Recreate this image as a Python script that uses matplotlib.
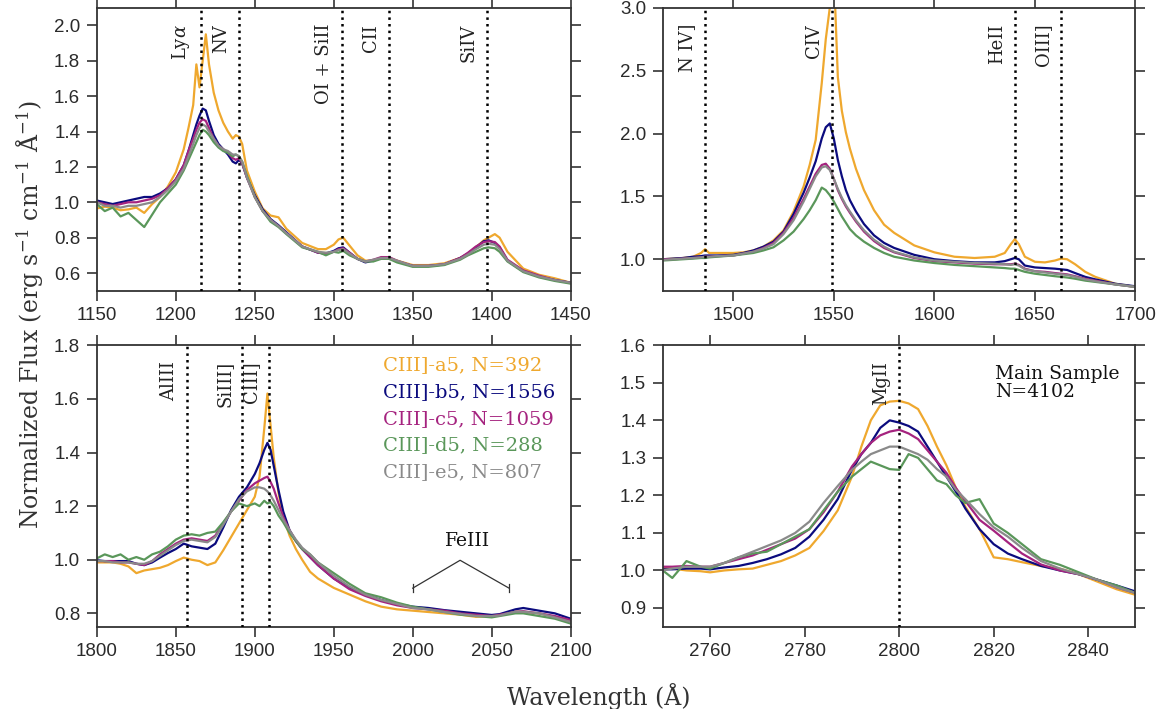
import numpy as np
import matplotlib
matplotlib.use("Agg")
import matplotlib.pyplot as plt
from matplotlib.transforms import blended_transform_factory, ScaledTranslation

# ---------------- data ----------------
series_labels = ["CIII]-a5, N=392", "CIII]-b5, N=1556", "CIII]-c5, N=1059",
                 "CIII]-d5, N=288", "CIII]-e5, N=807"]
series_colors = ["#EFA82E", "#0B0B7E", "#A5237F", "#5A975A", "#8A8A8A"]

# Panel 1: Lya / NV region
wl1 = [1150, 1155, 1160, 1165, 1170, 1175, 1180, 1185, 1190, 1195, 1200, 1205, 1208, 1211, 1213,
       1215, 1217, 1219, 1221, 1224, 1227, 1230, 1233, 1236, 1238, 1240, 1242, 1245, 1250, 1255,
       1260, 1265, 1270, 1280, 1290, 1295, 1300, 1303, 1306, 1310, 1315, 1320, 1325, 1330, 1335,
       1340, 1350, 1360, 1370, 1380, 1385, 1390, 1395, 1398, 1402, 1405, 1410, 1420, 1430, 1440, 1450]
f1_a = [0.965, 0.975, 0.97, 0.955, 0.96, 0.97, 0.94, 0.99, 1.03, 1.09, 1.17, 1.30, 1.42, 1.55, 1.78,
        1.65, 1.80, 1.95, 1.78, 1.62, 1.52, 1.45, 1.40, 1.36, 1.38, 1.37, 1.33, 1.18, 1.06, 0.965,
        0.925, 0.915, 0.85, 0.77, 0.735, 0.735, 0.76, 0.79, 0.80, 0.755, 0.70, 0.67, 0.67, 0.685, 0.685,
        0.67, 0.645, 0.645, 0.655, 0.685, 0.71, 0.745, 0.785, 0.80, 0.82, 0.80, 0.72, 0.625, 0.59, 0.57, 0.545]
f1_b = [1.01, 1.0, 0.99, 1.0, 1.01, 1.02, 1.03, 1.03, 1.05, 1.08, 1.13, 1.21, 1.29, 1.38, 1.44,
        1.49, 1.53, 1.52, 1.46, 1.38, 1.33, 1.30, 1.27, 1.23, 1.22, 1.24, 1.22, 1.14, 1.04, 0.96,
        0.905, 0.87, 0.83, 0.75, 0.715, 0.71, 0.725, 0.74, 0.745, 0.715, 0.68, 0.66, 0.67, 0.685, 0.685,
        0.665, 0.64, 0.64, 0.648, 0.685, 0.71, 0.745, 0.78, 0.785, 0.77, 0.745, 0.67, 0.61, 0.58, 0.56, 0.545]
f1_c = [1.0, 0.99, 0.98, 0.99, 1.0, 1.0, 1.01, 1.02, 1.04, 1.08, 1.13, 1.21, 1.29, 1.36, 1.41,
        1.45, 1.47, 1.46, 1.42, 1.36, 1.32, 1.30, 1.28, 1.25, 1.24, 1.25, 1.22, 1.14, 1.03, 0.95,
        0.90, 0.865, 0.825, 0.75, 0.715, 0.71, 0.72, 0.735, 0.74, 0.715, 0.68, 0.665, 0.675, 0.69, 0.69,
        0.67, 0.64, 0.64, 0.65, 0.685, 0.715, 0.75, 0.775, 0.78, 0.775, 0.75, 0.675, 0.615, 0.585, 0.56, 0.545]
f1_d = [0.99, 0.95, 0.97, 0.92, 0.94, 0.90, 0.86, 0.93, 1.0, 1.05, 1.10, 1.18, 1.24, 1.30, 1.34,
        1.38, 1.41, 1.40, 1.38, 1.34, 1.31, 1.29, 1.28, 1.26, 1.27, 1.26, 1.23, 1.15, 1.03, 0.95,
        0.89, 0.86, 0.82, 0.745, 0.72, 0.70, 0.72, 0.715, 0.725, 0.70, 0.68, 0.665, 0.665, 0.68, 0.68,
        0.66, 0.635, 0.635, 0.645, 0.675, 0.70, 0.72, 0.74, 0.745, 0.74, 0.72, 0.665, 0.605, 0.575, 0.555, 0.54]
f1_e = [1.0, 0.98, 0.98, 0.97, 0.98, 0.98, 0.99, 1.0, 1.03, 1.07, 1.12, 1.19, 1.26, 1.33, 1.38,
        1.42, 1.44, 1.43, 1.40, 1.36, 1.32, 1.30, 1.29, 1.27, 1.27, 1.26, 1.23, 1.14, 1.03, 0.95,
        0.90, 0.865, 0.825, 0.75, 0.72, 0.715, 0.72, 0.73, 0.735, 0.71, 0.68, 0.665, 0.675, 0.685, 0.685,
        0.67, 0.64, 0.64, 0.65, 0.68, 0.705, 0.735, 0.76, 0.765, 0.76, 0.735, 0.67, 0.61, 0.58, 0.56, 0.545]

# Panel 2: CIV region
wl2 = [1465, 1470, 1475, 1480, 1484, 1486, 1488, 1492, 1500, 1505, 1510, 1515, 1520, 1525, 1530,
       1535, 1538, 1541, 1544, 1546, 1548, 1550, 1552, 1554, 1556, 1558, 1561, 1565, 1570, 1575,
       1580, 1590, 1600, 1610, 1620, 1630, 1635, 1638, 1640, 1642, 1645, 1650, 1655, 1660, 1663,
       1666, 1670, 1675, 1680, 1690, 1700]
f2_a = [1.0, 1.005, 1.01, 1.02, 1.05, 1.08, 1.05, 1.05, 1.05, 1.055, 1.07, 1.10, 1.15, 1.23, 1.38,
        1.58, 1.75, 1.95, 2.40, 2.75, 3.0, 3.3, 2.45, 2.18, 2.01, 1.88, 1.72, 1.55, 1.39, 1.275,
        1.21, 1.11, 1.055, 1.02, 1.01, 1.02, 1.05, 1.12, 1.16, 1.12, 1.02, 0.98, 0.975, 0.99, 1.005,
        1.0, 0.96, 0.90, 0.86, 0.805, 0.78]
f2_b = [1.0, 1.005, 1.01, 1.02, 1.025, 1.03, 1.03, 1.03, 1.035, 1.05, 1.07, 1.10, 1.14, 1.22, 1.36,
        1.53, 1.65, 1.78, 1.96, 2.05, 2.08, 1.96, 1.79, 1.66, 1.55, 1.47, 1.38, 1.28, 1.19, 1.13,
        1.09, 1.035, 1.0, 0.985, 0.975, 0.975, 0.985, 1.0, 1.01, 1.0, 0.95, 0.935, 0.93, 0.925, 0.92,
        0.915, 0.89, 0.86, 0.84, 0.805, 0.785]
f2_c = [1.0, 1.0, 1.005, 1.01, 1.015, 1.02, 1.02, 1.025, 1.03, 1.045, 1.06, 1.09, 1.13, 1.21, 1.33,
        1.48, 1.58, 1.68, 1.75, 1.76, 1.72, 1.64, 1.55, 1.48, 1.42, 1.37, 1.30, 1.22, 1.145, 1.09,
        1.055, 1.01, 0.985, 0.975, 0.965, 0.96, 0.96, 0.96, 0.965, 0.955, 0.925, 0.905, 0.90, 0.89, 0.885,
        0.88, 0.865, 0.845, 0.83, 0.80, 0.78]
f2_d = [0.99, 0.995, 1.0, 1.005, 1.01, 1.01, 1.015, 1.02, 1.03, 1.04, 1.05, 1.07, 1.095, 1.15, 1.22,
        1.32, 1.39, 1.47, 1.57, 1.55, 1.51, 1.46, 1.40, 1.34, 1.29, 1.24, 1.19, 1.14, 1.09, 1.05,
        1.02, 0.99, 0.97, 0.955, 0.945, 0.935, 0.93, 0.925, 0.925, 0.915, 0.90, 0.885, 0.875, 0.865, 0.86,
        0.855, 0.845, 0.83, 0.82, 0.80, 0.78]
f2_e = [0.995, 1.0, 1.005, 1.01, 1.015, 1.02, 1.02, 1.025, 1.03, 1.045, 1.06, 1.085, 1.12, 1.20, 1.31,
        1.46, 1.56, 1.66, 1.73, 1.74, 1.71, 1.64, 1.56, 1.49, 1.43, 1.38, 1.31, 1.23, 1.155, 1.10,
        1.06, 1.015, 0.99, 0.98, 0.97, 0.965, 0.96, 0.955, 0.96, 0.95, 0.92, 0.905, 0.895, 0.885, 0.88,
        0.875, 0.86, 0.84, 0.825, 0.80, 0.78]

# Panel 3: CIII] region
wl3 = [1800, 1805, 1810, 1815, 1820, 1825, 1830, 1835, 1840, 1845, 1850, 1855, 1860, 1865, 1870,
       1875, 1880, 1885, 1890, 1895, 1900, 1903, 1906, 1908, 1910, 1912, 1915, 1918, 1922, 1926,
       1930, 1935, 1940, 1950, 1960, 1970, 1980, 1990, 2000, 2010, 2020, 2030, 2040, 2050, 2055,
       2060, 2065, 2070, 2080, 2090, 2100]
f3_a = [0.99, 0.99, 0.99, 0.985, 0.975, 0.95, 0.96, 0.965, 0.97, 0.98, 0.995, 1.008, 1.0, 0.995, 0.98,
        0.99, 1.035, 1.085, 1.135, 1.185, 1.235, 1.31, 1.49, 1.62, 1.50, 1.38, 1.25, 1.16, 1.09, 1.04,
        1.0, 0.955, 0.93, 0.895, 0.87, 0.845, 0.825, 0.815, 0.81, 0.805, 0.80, 0.795, 0.787, 0.79, 0.794,
        0.80, 0.806, 0.805, 0.80, 0.787, 0.768]
f3_b = [0.998, 0.995, 0.995, 0.995, 0.995, 0.985, 0.98, 0.99, 1.008, 1.025, 1.04, 1.06, 1.05, 1.045, 1.04,
        1.06, 1.12, 1.185, 1.235, 1.27, 1.32, 1.36, 1.41, 1.436, 1.41, 1.35, 1.26, 1.18, 1.11, 1.07,
        1.04, 1.01, 0.98, 0.93, 0.895, 0.87, 0.85, 0.835, 0.825, 0.82, 0.812, 0.806, 0.80, 0.794, 0.797,
        0.806, 0.815, 0.82, 0.81, 0.80, 0.78]
f3_c = [0.995, 0.995, 0.995, 0.99, 0.99, 0.985, 0.98, 0.995, 1.02, 1.04, 1.06, 1.075, 1.08, 1.075, 1.07,
        1.09, 1.135, 1.18, 1.22, 1.26, 1.285, 1.295, 1.305, 1.31, 1.29, 1.265, 1.21, 1.16, 1.11, 1.07,
        1.04, 1.01, 0.98, 0.93, 0.89, 0.865, 0.845, 0.83, 0.82, 0.815, 0.81, 0.80, 0.795, 0.79, 0.795,
        0.80, 0.806, 0.808, 0.80, 0.79, 0.775]
f3_d = [1.005, 1.02, 1.01, 1.02, 1.0, 1.01, 1.0, 1.02, 1.03, 1.05, 1.075, 1.09, 1.095, 1.09, 1.10,
        1.105, 1.14, 1.18, 1.21, 1.20, 1.21, 1.20, 1.22, 1.21, 1.215, 1.20, 1.165, 1.14, 1.10, 1.07,
        1.04, 1.02, 0.99, 0.95, 0.91, 0.875, 0.86, 0.84, 0.825, 0.815, 0.805, 0.795, 0.79, 0.785, 0.79,
        0.795, 0.80, 0.80, 0.79, 0.78, 0.762]
f3_e = [0.995, 0.995, 0.99, 0.99, 0.99, 0.985, 0.985, 0.995, 1.015, 1.035, 1.055, 1.07, 1.075, 1.07, 1.065,
        1.085, 1.13, 1.18, 1.225, 1.255, 1.27, 1.27, 1.265, 1.255, 1.24, 1.22, 1.185, 1.15, 1.11, 1.075,
        1.045, 1.02, 0.99, 0.94, 0.90, 0.87, 0.85, 0.835, 0.82, 0.815, 0.805, 0.798, 0.79, 0.79, 0.792,
        0.80, 0.806, 0.806, 0.80, 0.785, 0.768]

# Panel 4: MgII region
wl4 = [2750, 2752, 2755, 2758, 2760, 2763, 2766, 2769, 2772, 2775, 2778, 2781, 2784, 2787, 2790,
       2792, 2794, 2796, 2798, 2800, 2802, 2804, 2806, 2808, 2810, 2812, 2814, 2817, 2820, 2823,
       2826, 2830, 2834, 2838, 2842, 2846, 2850]
f4_a = [1.007, 1.005, 1.0, 0.998, 0.995, 1.0, 1.003, 1.005, 1.015, 1.025, 1.04, 1.06, 1.105, 1.16, 1.25,
        1.33, 1.40, 1.44, 1.45, 1.452, 1.445, 1.43, 1.385, 1.33, 1.28, 1.22, 1.17, 1.11, 1.035, 1.03,
        1.022, 1.012, 1.005, 0.99, 0.97, 0.95, 0.935]
f4_b = [1.003, 1.003, 1.005, 1.005, 1.003, 1.008, 1.012, 1.02, 1.03, 1.043, 1.06, 1.09, 1.135, 1.19, 1.268,
        1.31, 1.34, 1.38, 1.40, 1.394, 1.385, 1.37, 1.33, 1.29, 1.25, 1.21, 1.165, 1.11, 1.07, 1.045,
        1.03, 1.012, 1.0, 0.99, 0.975, 0.96, 0.944]
f4_c = [1.01, 1.01, 1.012, 1.01, 1.01, 1.02, 1.03, 1.04, 1.055, 1.07, 1.085, 1.11, 1.155, 1.21, 1.277,
        1.31, 1.34, 1.36, 1.37, 1.375, 1.365, 1.35, 1.32, 1.29, 1.26, 1.22, 1.185, 1.135, 1.106, 1.075,
        1.045, 1.016, 1.0, 0.99, 0.975, 0.955, 0.94]
f4_d = [1.0, 0.98, 1.025, 1.01, 1.005, 1.02, 1.035, 1.045, 1.05, 1.07, 1.09, 1.11, 1.16, 1.21, 1.25,
        1.27, 1.29, 1.28, 1.27, 1.268, 1.31, 1.30, 1.27, 1.24, 1.23, 1.20, 1.18, 1.19, 1.125, 1.10,
        1.07, 1.03, 1.015, 0.995, 0.975, 0.96, 0.94]
f4_e = [1.0, 1.005, 1.01, 1.01, 1.01, 1.02, 1.035, 1.05, 1.065, 1.08, 1.10, 1.13, 1.18, 1.225, 1.268,
        1.29, 1.31, 1.32, 1.33, 1.33, 1.32, 1.31, 1.295, 1.27, 1.25, 1.215, 1.19, 1.15, 1.115, 1.09,
        1.06, 1.025, 1.005, 0.99, 0.975, 0.955, 0.94]

# emission line markers (wavelength, label)
lines1 = [(1216, r"Ly$\alpha$"), (1240, "NV"), (1305, "OI + SiII"), (1335, "CII"), (1397, "SiIV")]
lines2 = [(1486, "N IV]"), (1549, "CIV"), (1640, "HeII"), (1663, "OIII]")]
lines3 = [(1857, "AlIII"), (1892, "SiIII]"), (1909, "CIII]")]
lines4 = [(2800, "MgII")]

# ---------------- figure ----------------
plt.rcParams["mathtext.fontset"] = "dejavuserif"
SERIF = "DejaVu Serif"
SANS = "Liberation Sans"
AXC = "#333333"

fig = plt.figure(figsize=(11.67, 7.09), dpi=100)
ax1 = fig.add_axes([0.083, 0.590, 0.406, 0.399])
ax2 = fig.add_axes([0.568, 0.590, 0.405, 0.399])
ax3 = fig.add_axes([0.083, 0.116, 0.406, 0.397])
ax4 = fig.add_axes([0.568, 0.116, 0.405, 0.397])

panels = [
    (ax1, wl1, [f1_a, f1_b, f1_c, f1_d, f1_e], lines1, (1150, 1450), (0.5, 2.1),
     np.arange(1150, 1451, 50), np.arange(0.6, 2.01, 0.2)),
    (ax2, wl2, [f2_a, f2_b, f2_c, f2_d, f2_e], lines2, (1465, 1700), (0.75, 3.0),
     np.arange(1500, 1701, 50), np.arange(1.0, 3.01, 0.5)),
    (ax3, wl3, [f3_a, f3_b, f3_c, f3_d, f3_e], lines3, (1800, 2100), (0.75, 1.8),
     np.arange(1800, 2101, 50), np.arange(0.8, 1.81, 0.2)),
    (ax4, wl4, [f4_a, f4_b, f4_c, f4_d, f4_e], lines4, (2750, 2850), (0.85, 1.6),
     np.arange(2760, 2841, 20), np.arange(0.9, 1.61, 0.1)),
]

for ax, wl, fl, lines, xl, yl, xt, yt in panels:
    for f, col in zip(fl, series_colors):
        ax.plot(wl, f, color=col, lw=1.6, zorder=2)
    trans = blended_transform_factory(ax.transData, ax.transAxes) + \
        ScaledTranslation(-9 / 100, -16 / 100, fig.dpi_scale_trans)
    for w, lab in lines:
        ax.axvline(w, color="black", ls=":", lw=1.8, zorder=3)
        ax.text(w, 1.0, lab, rotation=90, ha="right", va="top", transform=trans,
                family=SERIF, fontsize=13, color="#222222", zorder=4)
    ax.set_xlim(*xl)
    ax.set_ylim(*yl)
    ax.set_xticks(xt)
    ax.set_yticks(yt)
    ax.set_yticklabels([f"{v:.1f}" for v in yt])
    ax.tick_params(direction="out", length=7, width=1.2, color=AXC,
                   top=True, right=True, labelsize=13.5, labelcolor="#2a2a2a", pad=5)
    for lab in ax.get_xticklabels() + ax.get_yticklabels():
        lab.set_fontfamily(SANS)
    for s in ax.spines.values():
        s.set_color(AXC)
        s.set_linewidth(1.3)

# legend as coloured text
for i, (lab, col) in enumerate(zip(series_labels, series_colors)):
    ax3.text(1981, 1.726 - 0.1 * i, lab, color=col, family=SERIF, fontsize=14,
             ha="left", va="center")

# FeIII bracket
ax3.plot([2000, 2030, 2061], [0.894, 0.998, 0.894], color="#333333", lw=0.9)
ax3.plot([2000, 2000], [0.88, 0.908], color="#333333", lw=0.9)
ax3.plot([2061, 2061], [0.88, 0.908], color="#333333", lw=0.9)
ax3.text(2035, 1.07, "FeIII", family=SERIF, fontsize=13.5, ha="center", va="center",
         color="#111111")

ax4.text(2820.3, 1.548, "Main Sample\nN=4102", family=SERIF, fontsize=13.5, ha="left",
         va="top", color="#111111", linespacing=1.0)

fig.text(0.026, 0.556, r"Normalized Flux (erg s$^{-1}$ cm$^{-1}$ $\rm\AA^{-1}$)", rotation=90,
         ha="center", va="center", family=SERIF, fontsize=17, color="#333333")
fig.text(0.513, 0.005, "Wavelength (Å)", ha="center", va="baseline", family=SERIF,
         fontsize=17, color="#333333")

fig.savefig("out.png", dpi=100)
